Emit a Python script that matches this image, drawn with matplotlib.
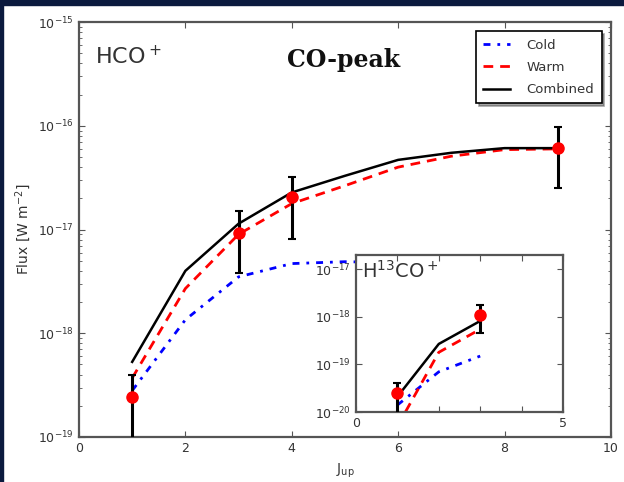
import numpy as np
import matplotlib
matplotlib.use("Agg")
import matplotlib.pyplot as plt
from matplotlib.patches import Rectangle
from matplotlib.ticker import FixedLocator, MultipleLocator, NullFormatter

# HCO+ observed line fluxes at the CO peak
J_obs = [1, 3, 4, 9]
F_obs = [2.45e-19, 9.3e-18, 2.05e-17, 6.1e-17]
F_hi = [3.95e-19, 1.5e-17, 3.2e-17, 9.8e-17]
F_lo = [5e-20, 3.8e-18, 8.2e-18, 2.5e-17]

# model ladders, J = 1..9
J_mod = [1, 2, 3, 4, 5, 6, 7, 8, 9]
cold = [2.8e-19, 1.35e-18, 3.5e-18, 4.7e-18, 4.9e-18, 4.8e-18, 4.5e-18, 4.2e-18, 3.9e-18]
warm = [3.7e-19, 2.7e-18, 9.0e-18, 1.78e-17, 2.65e-17, 4.0e-17, 5.1e-17, 5.9e-17, 6.0e-17]
combined = [5.3e-19, 4.0e-18, 1.14e-17, 2.28e-17, 3.3e-17, 4.7e-17, 5.5e-17, 6.1e-17, 6.1e-17]

# H13CO+ (inset)
J13_obs = [1, 3]
F13_obs = [2.5e-20, 1.1e-18]
F13_hi = [4e-20, 1.8e-18]
F13_lo = [5e-21, 4.6e-19]
J13_mod = [1, 2, 3]
cold13 = [1.4e-20, 7e-20, 1.5e-19]
warm13 = [5e-21, 1.8e-19, 5.5e-19]
comb13 = [2.1e-20, 2.7e-19, 8.2e-19]

grey = "#555555"
txt = "#333333"
cold_ls = (0, (2.5, 2.5, 1, 2.5))
warm_ls = (0, (3.5, 2.5))


def decade_minors(lo, hi):
    # minor ticks 2..9 x 10^n inside [10^lo, 10^hi]
    return [m * 10.0 ** e for e in range(lo, hi) for m in range(2, 10)]


def style_axes(ax):
    for s in ax.spines.values():
        s.set_color(grey)
        s.set_linewidth(1.6)
    ax.tick_params(which="both", direction="in", top=True, right=True,
                   colors=grey, labelcolor=txt, labelsize=9)
    ax.tick_params(which="major", length=4, width=0.8)
    ax.tick_params(which="minor", length=2, width=0.6)


def observed(ax, x, y, lo, hi):
    y = np.array(y)
    yerr = [y - np.array(lo), np.array(hi) - y]
    ax.errorbar(x, y, yerr=yerr, fmt="o", color="red", ms=8, mec="red",
                ecolor="black", elinewidth=2.2, capsize=3, capthick=1.5, zorder=5)


fig = plt.figure(figsize=(6.24, 4.82), dpi=100)

ax = fig.add_axes([0.1266, 0.0934, 0.8524, 0.8606])
ax.plot(J_mod, cold, color="blue", ls=cold_ls, lw=2, label="Cold")
ax.plot(J_mod, warm, color="red", ls=warm_ls, lw=2, label="Warm")
ax.plot(J_mod, combined, color="black", ls="-", lw=1.8, label="Combined")
observed(ax, J_obs, F_obs, F_lo, F_hi)
ax.set_yscale("log")
ax.set_xlim(0, 10)
ax.set_ylim(1e-19, 1e-15)
ax.xaxis.set_major_locator(MultipleLocator(2))
ax.yaxis.set_major_locator(FixedLocator([1e-19, 1e-18, 1e-17, 1e-16, 1e-15]))
ax.yaxis.set_minor_locator(FixedLocator(decade_minors(-19, -15)))
ax.yaxis.set_minor_formatter(NullFormatter())
style_axes(ax)
ax.set_xlabel("J$_{\\rm up}$", fontsize=10, color=txt, labelpad=5)
ax.set_ylabel("Flux [W m$^{-2}$]", fontsize=10, color=txt, labelpad=4)
ax.text(0.03, 0.945, "HCO$^+$", transform=ax.transAxes, fontsize=16,
        color=txt, va="top")
ax.text(0.497, 0.937, "CO-peak", transform=ax.transAxes, fontsize=17,
        fontweight="bold", family="DejaVu Serif", color="#111111",
        ha="center", va="top")
leg = ax.legend(loc="upper right", fontsize=9.5, frameon=True, fancybox=False,
                shadow=True, borderaxespad=0.7, handlelength=2.0,
                handletextpad=1.3, labelspacing=0.7, borderpad=0.55)
leg.get_frame().set_edgecolor("black")
leg.get_frame().set_linewidth(1.2)
for t in leg.get_texts():
    t.set_color(txt)

# inset: H13CO+
ins = fig.add_axes([0.5705, 0.1452, 0.3317, 0.3257])
ins.set_facecolor("white")
ins.plot(J13_mod, cold13, color="blue", ls=cold_ls, lw=2)
ins.plot(J13_mod, warm13, color="red", ls=warm_ls, lw=2)
ins.plot(J13_mod, comb13, color="black", ls="-", lw=1.8)
observed(ins, J13_obs, F13_obs, F13_lo, F13_hi)
ins.set_yscale("log")
ins.set_xlim(0, 5)
ins.set_ylim(1e-20, 2e-17)
ins.xaxis.set_major_locator(FixedLocator([0, 5]))
ins.xaxis.set_minor_locator(FixedLocator([1, 2, 3, 4]))
ins.yaxis.set_major_locator(FixedLocator([1e-20, 1e-19, 1e-18, 1e-17]))
ins.yaxis.set_minor_locator(FixedLocator([]))
style_axes(ins)
ins.tick_params(which="minor", length=4, width=0.8)
ins.text(0.03, 0.97, "H$^{13}$CO$^+$", transform=ins.transAxes, fontsize=14,
         color=txt, va="top")

# dark frame along the top and left edges
fig.patches.append(Rectangle((0, 1 - 5 / 482), 1, 5 / 482, transform=fig.transFigure,
                             color="#0b1a3e", zorder=10))
fig.patches.append(Rectangle((0, 0), 3 / 624, 1, transform=fig.transFigure,
                             color="#0b1a3e", zorder=10))

fig.savefig("out.png", dpi=100)
